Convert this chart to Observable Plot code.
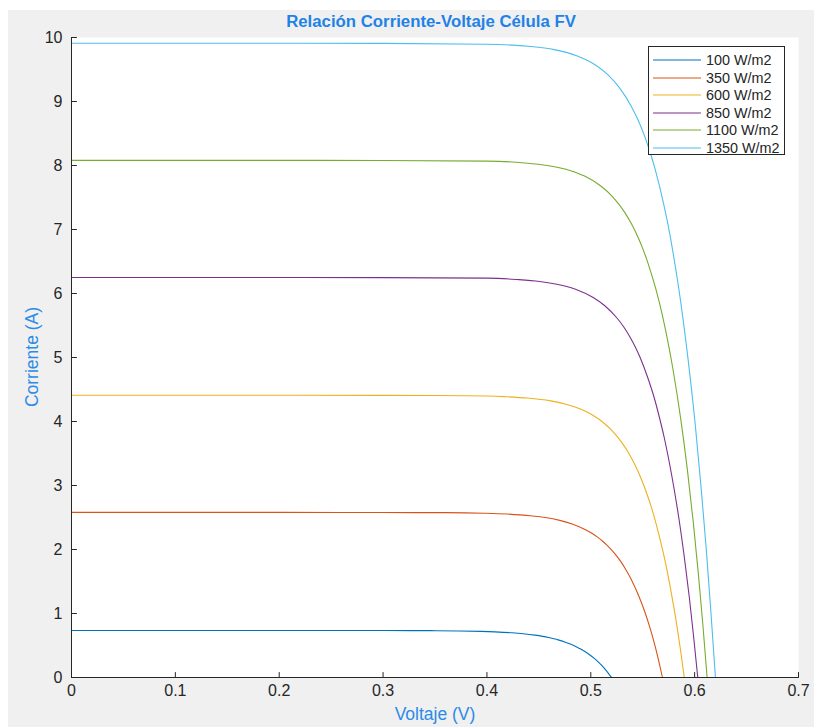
<!DOCTYPE html>
<html>
<head>
<meta charset="utf-8">
<script src="https://cdn.jsdelivr.net/npm/d3@7"></script>
<script src="https://cdn.jsdelivr.net/npm/@observablehq/plot@0.6"></script>
<style>
  body { margin: 0; background: #ffffff; font-family: "Liberation Sans", Arial, sans-serif; }
  #fig { position: relative; width: 814px; height: 727px; overflow: hidden; }
  #bg { position: absolute; left: 8px; top: 10px; right: 0; bottom: 0; background: #f0f0f0; }
  #chart { position: absolute; left: 0; top: 0; }
  .title { position: absolute; left: 431px; top: 22px; transform: translate(-50%, -50%);
           font-weight: bold; font-size: 16.8px; color: #1f82e6; white-space: nowrap; }
  .xlabel { position: absolute; left: 435px; top: 714px; transform: translate(-50%, -50%);
            font-size: 17.5px; color: #2b8be8; white-space: nowrap; }
  .ylabel { position: absolute; left: 32px; top: 357px; transform: translate(-50%, -50%) rotate(-90deg);
            font-size: 17.5px; color: #2b8be8; white-space: nowrap; }
  .legend { position: absolute; left: 648px; top: 46px; width: 135px; height: 107px;
            border: 1px solid #262626; background: #ffffff; box-sizing: content-box; }
  .legend .row { position: absolute; left: 4px; height: 18px; display: flex; align-items: center;
                 font-size: 14.4px; color: #262626; white-space: nowrap; }
  .legend svg { margin-right: 5px; }
</style>
</head>
<body>
<div id="fig">
  <div id="bg"></div>
  <div id="chart"></div>
  <div class="title">Relación Corriente-Voltaje Célula FV</div>
  <div class="xlabel">Voltaje (V)</div>
  <div class="ylabel">Corriente (A)</div>
  <div class="legend" id="legend"></div>
</div>
<script>
// Irradiance levels (legend entries) and MATLAB default line colours
const irradiances = ["100 W/m2", "350 W/m2", "600 W/m2", "850 W/m2", "1100 W/m2", "1350 W/m2"];
const lineColors = ["#0072BD", "#D95319", "#EDB120", "#7E2F8E", "#77AC30", "#4DBEEE"];

// Tick values
const xTicks = [0, 0.1, 0.2, 0.3, 0.4, 0.5, 0.6, 0.7];
const yTicks = [0, 1, 2, 3, 4, 5, 6, 7, 8, 9, 10];

// I-V curves: [voltage (V), current (A)]
const curve100 = [[0,0.735],[0.1,0.735],[0.2,0.735],[0.3,0.734],[0.328,0.733],[0.3505,0.7313],[0.3726,0.7277],[0.3948,0.7203],[0.4078,0.713],[0.4241,0.6983],[0.4349,0.6836],[0.4463,0.6615],[0.4535,0.643],[0.4593,0.6248],[0.4642,0.606],[0.4685,0.588],[0.4756,0.551],[0.4815,0.5145],[0.4864,0.478],[0.4907,0.441],[0.4978,0.3675],[0.5037,0.294],[0.5086,0.2205],[0.5129,0.147],[0.5166,0.0735],[0.52,0]];
const curve350 = [[0,2.58],[0.1,2.58],[0.2,2.58],[0.3,2.577],[0.36,2.576],[0.3975,2.567],[0.4196,2.554],[0.4418,2.528],[0.4548,2.503],[0.4711,2.451],[0.482,2.399],[0.4934,2.322],[0.5007,2.2575],[0.5065,2.193],[0.5115,2.1285],[0.5158,2.064],[0.5231,1.935],[0.5291,1.806],[0.5341,1.677],[0.5385,1.548],[0.5458,1.29],[0.5519,1.032],[0.557,0.774],[0.5615,0.516],[0.5654,0.258],[0.569,0]];
const curve600 = [[0,4.41],[0.1,4.41],[0.2,4.41],[0.3,4.408],[0.38,4.403],[0.417,4.388],[0.4391,4.366],[0.4613,4.322],[0.4744,4.278],[0.4907,4.19],[0.5016,4.101],[0.5131,3.969],[0.5204,3.859],[0.5263,3.749],[0.5313,3.638],[0.5357,3.528],[0.543,3.3075],[0.549,3.087],[0.5541,2.8665],[0.5586,2.646],[0.566,2.205],[0.5723,1.764],[0.5775,1.323],[0.5822,0.882],[0.5863,0.441],[0.59,0]];
const curve850 = [[0,6.25],[0.1,6.25],[0.2,6.25],[0.3,6.248],[0.4,6.24],[0.4285,6.219],[0.4506,6.188],[0.4729,6.125],[0.4859,6.063],[0.5023,5.938],[0.5132,5.813],[0.5248,5.625],[0.5321,5.469],[0.538,5.313],[0.5431,5.156],[0.5475,5.0],[0.5548,4.6875],[0.561,4.375],[0.5661,4.0625],[0.5707,3.75],[0.5783,3.125],[0.5847,2.5],[0.5901,1.875],[0.5949,1.25],[0.5991,0.625],[0.603,0]];
const curve1100 = [[0,8.08],[0.1,8.08],[0.2,8.08],[0.3,8.079],[0.4,8.068],[0.4361,8.04],[0.4582,7.999],[0.4805,7.918],[0.4935,7.838],[0.51,7.676],[0.5209,7.514],[0.5325,7.272],[0.5398,7.07],[0.5458,6.868],[0.5509,6.666],[0.5553,6.464],[0.5628,6.06],[0.569,5.656],[0.5742,5.252],[0.5788,4.848],[0.5866,4.04],[0.5931,3.232],[0.5987,2.424],[0.6036,1.616],[0.608,0.808],[0.612,0]];
const curve1350 = [[0,9.91],[0.1,9.91],[0.2,9.91],[0.3,9.908],[0.4,9.895],[0.4426,9.86],[0.4648,9.811],[0.487,9.712],[0.5001,9.613],[0.5166,9.415],[0.5275,9.216],[0.5392,8.919],[0.5466,8.671],[0.5526,8.424],[0.5577,8.176],[0.5622,7.928],[0.5697,7.4325],[0.576,6.937],[0.5812,6.4415],[0.5859,5.946],[0.5938,4.955],[0.6005,3.964],[0.6062,2.973],[0.6113,1.982],[0.6158,0.991],[0.62,0]];

const curves = [curve100, curve350, curve600, curve850, curve1100, curve1350];

// Long table for the line mark
const rows = curves.flatMap((c, k) => c.map(([v, i]) => ({series: irradiances[k], v, i})));

const axisColor = "#262626";

// Short tick stroke drawn inward from the axis line
const tickShape = {draw(context, l) { context.moveTo(0, 0); context.lineTo(0, -l); }};

const chart = Plot.plot({
  width: 814,
  height: 727,
  marginLeft: 71,
  marginRight: 16,
  marginTop: 37,
  marginBottom: 50,
  style: {background: "transparent", color: axisColor, fontFamily: "Liberation Sans, Arial, sans-serif", fontSize: "16px"},
  x: {domain: [0, 0.7]},
  y: {domain: [0, 10]},
  color: {domain: irradiances, range: lineColors},
  marks: [
    Plot.frame({fill: "white", stroke: null}),
    Plot.line(rows, {x: "v", y: "i", z: "series", stroke: "series", strokeWidth: 1.1, curve: "monotone-x"}),
    Plot.axisX(xTicks, {tickSize: 0, tickPadding: 7, label: null, fontSize: 16, tickFormat: d => String(d)}),
    Plot.axisY(yTicks, {tickSize: 0, tickPadding: 9, label: null, fontSize: 16, tickFormat: d => String(d)}),
    Plot.vector(xTicks, {x: d => d, frameAnchor: "bottom", length: 5, rotate: 0, anchor: "start", shape: tickShape, stroke: axisColor, strokeWidth: 1}),
    Plot.vector(yTicks, {y: d => d, frameAnchor: "left", length: 5, rotate: 90, anchor: "start", shape: tickShape, stroke: axisColor, strokeWidth: 1}),
    Plot.ruleX([0], {stroke: axisColor}),
    Plot.ruleY([0], {stroke: axisColor})
  ]
});
document.getElementById("chart").appendChild(chart);

// Legend entries
const legend = document.getElementById("legend");
irradiances.forEach((name, k) => {
  const row = document.createElement("div");
  row.className = "row";
  row.style.top = (4 + k * 17.6) + "px";
  row.innerHTML = `<svg width="48" height="4"><line x1="0" x2="48" y1="2" y2="2" stroke="${lineColors[k]}" stroke-width="1.1"/></svg><span>${name}</span>`;
  legend.appendChild(row);
});
</script>
</body>
</html>
